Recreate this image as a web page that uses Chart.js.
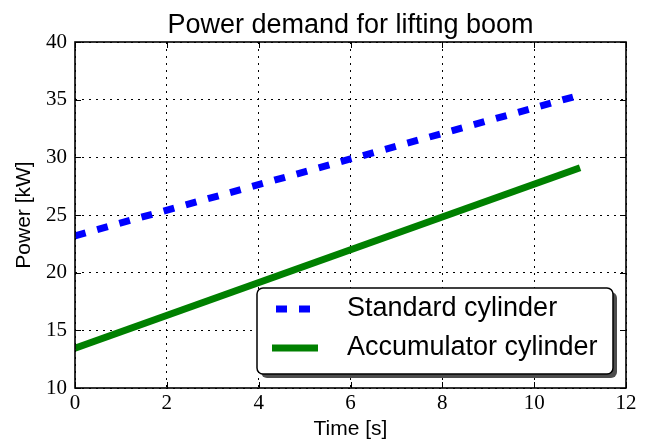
<!DOCTYPE html>
<html>
<head>
<meta charset="utf-8">
<script src="https://cdn.jsdelivr.net/npm/chart.js@4"></script>
<style>
  body { margin: 0; background: #fff; }
  canvas { display: block; }
</style>
</head>
<body>
<canvas id="powerChart" width="651" height="442"></canvas>
<script>
// Power demand data
const timeSec = [0, 11];
const standardKw = [23.2, 35.4];
const accumulatorKw = [13.45, 29.1];
const seriesLabels = ['Standard cylinder', 'Accumulator cylinder'];
const xTicks = [0, 2, 4, 6, 8, 10, 12];
const yTicks = [10, 15, 20, 25, 30, 35, 40];
const chartTitle = 'Power demand for lifting boom';

const sansFont = '"Liberation Sans", Arial, sans-serif';
const serifFont = '"Liberation Serif", "DejaVu Serif", serif';

// title centred over the plot area (not over the whole canvas)
const axesTitle = {
    id: 'axesTitle',
    afterDraw(chart) {
        const { ctx, chartArea: a } = chart;
        ctx.save();
        ctx.fillStyle = '#000';
        ctx.font = '27px ' + sansFont;
        ctx.textAlign = 'center';
        ctx.textBaseline = 'alphabetic';
        ctx.fillText(chartTitle, (a.left + a.right) / 2, 33);
        ctx.restore();
    }
};

// frame + inward ticks on all four sides, like matplotlib
const framePlugin = {
    id: 'frame',
    afterDatasetsDraw(chart) {
        const { ctx, chartArea: a, scales } = chart;
        ctx.save();
        ctx.strokeStyle = '#000';
        ctx.lineWidth = 1;
        const len = 6;
        ctx.beginPath();
        xTicks.forEach(v => {
            const x = Math.round(scales.x.getPixelForValue(v)) + 0.5;
            ctx.moveTo(x, a.bottom); ctx.lineTo(x, a.bottom - len);
            ctx.moveTo(x, a.top); ctx.lineTo(x, a.top + len);
        });
        yTicks.forEach(v => {
            const y = Math.round(scales.y.getPixelForValue(v)) + 0.5;
            ctx.moveTo(a.left, y); ctx.lineTo(a.left + len, y);
            ctx.moveTo(a.right, y); ctx.lineTo(a.right - len, y);
        });
        ctx.stroke();
        ctx.lineWidth = 1.6;
        ctx.strokeRect(a.left, a.top, a.right - a.left, a.bottom - a.top);
        ctx.restore();
    }
};

// legend box inside the plot, lower right, with drop shadow
const boxLegend = {
    id: 'boxLegend',
    afterDraw(chart) {
        const ctx = chart.ctx;
        const x = 257, y = 288, w = 356, h = 86, r = 6;
        ctx.save();
        ctx.fillStyle = '#4d4d4d';
        ctx.beginPath();
        ctx.roundRect(x + 4, y + 4, w, h, r);
        ctx.fill();
        ctx.fillStyle = '#fff';
        ctx.strokeStyle = '#000';
        ctx.lineWidth = 1.5;
        ctx.beginPath();
        ctx.roundRect(x, y, w, h, r);
        ctx.fill();
        ctx.stroke();

        chart.data.datasets.forEach((ds, i) => {
            const cy = y + 21 + i * 39;
            ctx.strokeStyle = ds.borderColor;
            ctx.lineWidth = ds.borderWidth;
            ctx.lineCap = 'butt';
            ctx.setLineDash(ds.borderDash || []);
            ctx.lineDashOffset = -4;
            ctx.beginPath();
            ctx.moveTo(x + 15, cy);
            ctx.lineTo(x + 61, cy);
            ctx.stroke();
            ctx.setLineDash([]);
            ctx.fillStyle = '#000';
            ctx.font = '27px ' + sansFont;
            ctx.textBaseline = 'middle';
            ctx.fillText(ds.label, x + 90, cy);
        });
        ctx.restore();
    }
};

const toPoints = ys => timeSec.map((t, i) => ({ x: t, y: ys[i] }));

new Chart(document.getElementById('powerChart'), {
    type: 'line',
    data: {
        datasets: [{
            label: seriesLabels[0],
            data: toPoints(standardKw),
            borderColor: '#0000ff',
            borderWidth: 7,
            borderDash: [11, 12],
            borderCapStyle: 'butt',
            pointRadius: 0,
            fill: false
        }, {
            label: seriesLabels[1],
            data: toPoints(accumulatorKw),
            borderColor: '#008000',
            borderWidth: 7,
            borderCapStyle: 'butt',
            pointRadius: 0,
            fill: false
        }]
    },
    options: {
        responsive: false,
        animation: false,
        layout: { padding: { left: 0, right: 25, top: 42, bottom: 0 } },
        plugins: {
            legend: { display: false },
            tooltip: { enabled: false },
            title: { display: false }
        },
        scales: {
            x: {
                type: 'linear',
                min: 0,
                max: 12,
                afterBuildTicks: s => { s.ticks = xTicks.map(v => ({ value: v })); },
                afterFit: s => { s.height = 54; },
                grid: { color: '#000', lineWidth: 1, drawTicks: false },
                border: { display: false, dash: [2, 5] },
                ticks: { color: '#000', padding: 3, maxRotation: 0, font: { family: serifFont, size: 21 } },
                title: {
                    display: true,
                    text: 'Time [s]',
                    color: '#000',
                    font: { family: sansFont, size: 21 },
                    padding: { top: 0, bottom: 0 }
                }
            },
            y: {
                min: 10,
                max: 40,
                afterBuildTicks: s => { s.ticks = yTicks.map(v => ({ value: v })); },
                afterFit: s => { s.width = 75; },
                grid: { color: '#000', lineWidth: 1, drawTicks: false },
                border: { display: false, dash: [2, 5] },
                ticks: { color: '#000', padding: 8, font: { family: serifFont, size: 21 } },
                title: {
                    display: true,
                    text: 'Power [kW]',
                    color: '#000',
                    font: { family: sansFont, size: 21 },
                    padding: { top: 12, bottom: 0 }
                }
            }
        }
    },
    plugins: [framePlugin, boxLegend, axesTitle]
});
</script>
</body>
</html>
